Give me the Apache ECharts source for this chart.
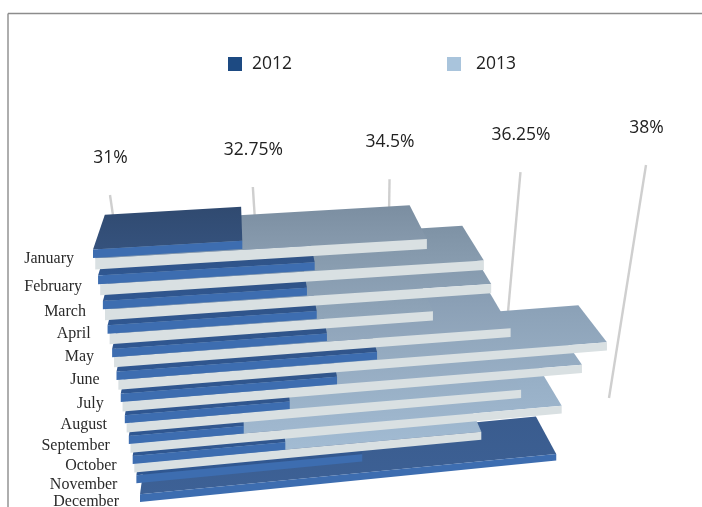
<!DOCTYPE html>
<html>
<head>
<meta charset="utf-8">
<style>html,body{margin:0;padding:0;background:#fff}#c{width:702px;height:507px}</style>
<script src="https://cdn.jsdelivr.net/npm/echarts@6/dist/echarts.min.js"></script>
</head>
<body>
<div id="c"></div>
<script>
var months = ['January','February','March','April','May','June','July','August','September','October','November','December'];
var values2012 = [32.81,33.70,33.58,33.69,33.81,34.49,33.92,33.24,32.57,33.13,34.24,37.28];
var values2013 = [35.17,35.95,36.07,35.27,36.39,37.86,37.52,36.62,37.28,36.05];
var tickValues = [31,32.75,34.5,36.25,38];
var tickLabels = ['31%','32.75%','34.5%','36.25%','38%'];

// hidden plane the axes scale into; the picture plane is a tilted view of it
var GRID = {left:100, top:100, width:500, height:300};
var A=[93,258], B=[635,225], C=[140,502], D=[600,456];       // corners of the bar plane
var GA=[110,195], GB=[646,165], GC=[143,420], GD=[609,398];  // corners of the wall with grid lines
var VP=[229,-149];                                            // vanishing point of bar depth
var ROW_OFFSET_2013 = 0.44;
var monthNudgeX = [-1,2,1,1,0,1,1,0,-1,2,-1,-3];
var monthNudgeY = [1,3,2,0,0,0,2,2,2,2,2,0];

function lerp(a,b,t){return [a[0]+(b[0]-a[0])*t, a[1]+(b[1]-a[1])*t];}
function ease(t,k){return t*(1+k)/(1+k*t);}
function unit(api,v,r){
  var p=api.coord([v,r]);
  return [(p[0]-GRID.left)/GRID.width,(p[1]-GRID.top)/GRID.height];
}
function floorPt(api,v,r){
  var n=unit(api,v,r), su=ease(n[0],0.09), sr=ease(n[1],0.2);
  return lerp(lerp(A,C,sr),lerp(B,D,sr),su);
}
function mix(c1,c2,t){
  var f=function(c,i){return parseInt(c.substr(1+i*2,2),16);};
  var o='#';
  for(var i=0;i<3;i++){var v=Math.round(f(c1,i)+(f(c2,i)-f(c1,i))*t);o+=(v<16?'0':'')+v.toString(16);}
  return o;
}
function barRender(kind){
  return function(params,api){
    var v=api.value(0), row=api.value(1);
    var r=row+(kind==='light'?ROW_OFFSET_2013:0);
    var rowT=row/11;
    var b0=floorPt(api,31,r), b1=floorPt(api,v,r);
    var hBase=(kind==='light'?11.2-2.4*rowT:8.6-0.8*rowT);
    var tV=(v-31)/7;
    var h0=hBase, h1=hBase*(1-0.2*tV);
    var f0=[b0[0],b0[1]-h0], f1=[b1[0],b1[1]-h1];
    var d=0.087-0.025*rowT;
    var q0=lerp(f0,VP,d), q1=lerp(f1,VP,d);
    var back,front,strip;
    if(kind==='light'){
      back=mix('#7b8ea1','#9ab3cb',rowT*1.15);
      front=mix('#8b9eb1','#a7c0d7',rowT*1.15);
      strip='#d9e0e2';
    }else{
      back=mix('#304a70','#3a5c8e',rowT);
      front=(row>0&&row<11)?'#2f5792':mix('#35527d','#3d6196',rowT);
      strip='#3d6db0';
    }
    var z=(11-row)*2+(kind==='dark'?1:0)+1;
    return {type:'group',children:[
      {type:'polygon',z2:z,shape:{points:[f0,f1,q1,q0]},
        style:{fill:{type:'linear',x:0,y:0,x2:0,y2:1,colorStops:[{offset:0,color:back},{offset:1,color:front}]}}},
      {type:'polygon',z2:z,shape:{points:[b0,b1,f1,f0]},style:{fill:strip}}
    ]};
  };
}
function tickRender(params,api){
  var n=unit(api,api.value(0),0), s=ease(n[0],0.09);
  var top=lerp(GA,GB,s), bot=lerp(GC,GD,s);
  return {type:'group',children:[
    {type:'line',z2:0,shape:{x1:top[0],y1:top[1],x2:bot[0],y2:bot[1]},style:{stroke:'#cfcfcf',lineWidth:2.4}},
    {type:'text',z2:0,style:{text:tickLabels[params.dataIndex],x:top[0]+0.5,y:top[1]-37,align:'center',verticalAlign:'middle',
      fill:'#222',fontSize:17.5,fontFamily:'"Open Sans"'}}
  ]};
}
function monthRender(params,api){
  var i=params.dataIndex, p=floorPt(api,31,api.value(1));
  return {type:'text',z2:40,style:{text:months[i],x:p[0]-18+monthNudgeX[i],y:p[1]+monthNudgeY[i],align:'right',verticalAlign:'middle',
    fill:'#2a2a2a',fontSize:16,fontFamily:'"Liberation Serif"'}};
}
function rows(arr){return arr.map(function(v,i){return [v,i];});}

var chart=echarts.init(document.getElementById('c'),null,{renderer:'canvas'});
chart.setOption({
  animation:false,
  backgroundColor:'#fff',
  grid:GRID,
  xAxis:{type:'value',min:31,max:38,show:false},
  yAxis:{type:'value',min:0,max:11,inverse:true,show:false},
  legend:{data:[{name:'2012'},{name:'2013',textStyle:{padding:[0,0,0,10]}}],left:223,top:50,icon:'rect',itemWidth:14,itemHeight:14,itemGap:155,selectedMode:false,
    textStyle:{color:'#222',fontSize:17.5,fontFamily:'"Open Sans"',padding:[0,0,0,5]}},
  graphic:[
    {type:'line',shape:{x1:8,y1:13.5,x2:702,y2:13.5},style:{stroke:'#8c8c8c',lineWidth:1.4}},
    {type:'line',shape:{x1:8,y1:13.5,x2:8,y2:507},style:{stroke:'#8c8c8c',lineWidth:1.4}}
  ],
  series:[
    {type:'custom',name:'axis',coordinateSystem:'cartesian2d',silent:true,clip:false,z:2,renderItem:tickRender,encode:{x:0,y:1},data:tickValues.map(function(v){return [v,0];})},
    {type:'custom',name:'2013',coordinateSystem:'cartesian2d',clip:false,z:2,itemStyle:{color:'#a9c4dc'},renderItem:barRender('light'),encode:{x:0,y:1},data:rows(values2013)},
    {type:'custom',name:'2012',coordinateSystem:'cartesian2d',clip:false,z:2,itemStyle:{color:'#1d4a82'},renderItem:barRender('dark'),encode:{x:0,y:1},data:rows(values2012)},
    {type:'custom',name:'months',coordinateSystem:'cartesian2d',silent:true,clip:false,z:2,renderItem:monthRender,encode:{x:0,y:1},data:months.map(function(m,i){return [31,i];})}
  ]
});
</script>
</body>
</html>
